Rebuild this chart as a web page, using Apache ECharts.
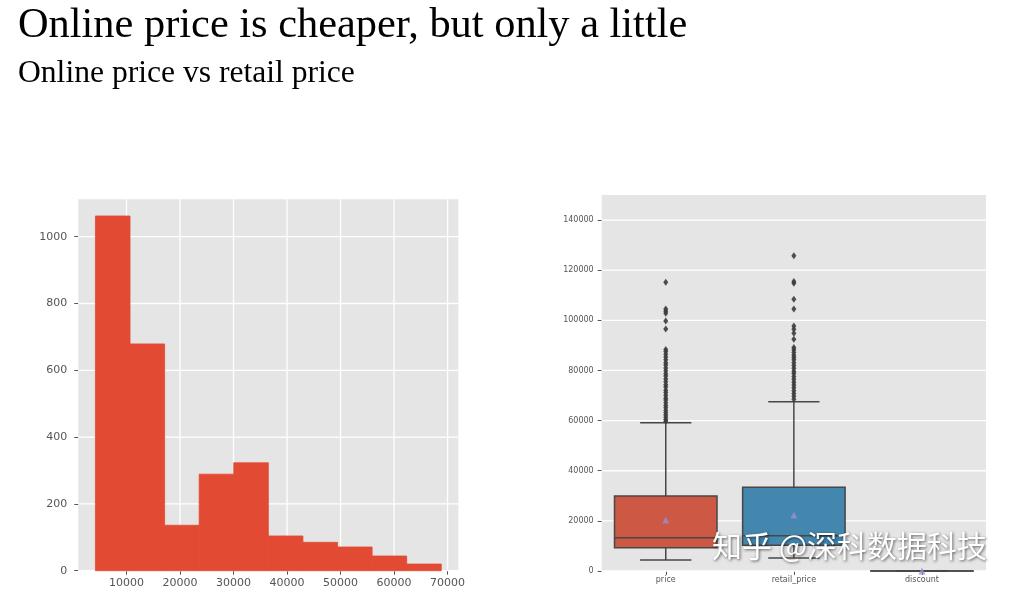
<!DOCTYPE html>
<html><head><meta charset="utf-8">
<script src="https://cdn.jsdelivr.net/npm/echarts@6/dist/echarts.min.js"></script>
<style>html,body{margin:0;padding:0;background:#fff}#c{width:1013px;height:593px}</style>
</head><body><div id="c"></div>
<script>
const titleText = 'Online price is cheaper, but only a little';
const subtitleText = 'Online price vs retail price';
const watermarkText = '知乎 @深科数据科技';

// histogram (bin edges and counts)
const histEdges = [4200, 10662, 17124, 23586, 30048, 36510, 42972, 49434, 55896, 62358, 68820];
const histCounts = [1062, 679, 136, 289, 323, 104, 85, 71, 44, 20];
const histXTicks = [10000, 20000, 30000, 40000, 50000, 60000, 70000];
const histYTicks = [0, 200, 400, 600, 800, 1000];

// box plot
const boxCategories = ['price', 'retail_price', 'discount'];
const boxMin = [4390, 5200, 0];
const boxQ1 = [9300, 10300, 0.4];
const boxMedian = [13290, 14100, 0.6];
const boxQ3 = [29900, 33380, 0.8];
const boxMax = [59160, 67540, 1];
const boxMean = [20340, 22340, 0.6];
const priceOutliers = [115200, 104500, 103600, 102800, 99700, 96500, 88400, 87600, 86500, 85400,
  84300, 83100, 82200, 81000, 79900, 78700, 77800, 76600, 75500, 74300, 73400, 72100, 71200,
  70100, 69000, 68200, 67100, 66000, 65100, 64000, 63100, 62200, 61300, 60400, 59700];
const retailOutliers = [125800, 115500, 114800, 108400, 104500, 97700, 96400, 94800, 92500,
  89200, 88300, 87200, 86100, 85200, 84300, 83100, 82000, 80900, 79700, 78800, 77600, 76500,
  75300, 74200, 73100, 71900, 70800, 69700, 68500];
const boxYTicks = [0, 20000, 40000, 60000, 80000, 100000, 120000, 140000];

const boxColors = ['#CD5843', '#4386AE', '#8E88BE'];
const lineGray = '#474747';
const tickColor = '#555555';
const plain = v => String(v);

function vLine(params, api) {
  const cs = params.coordSys;
  const x = api.coord([api.value(0), api.value(1)])[0];
  return { type: 'line', silent: true, shape: { x1: x, y1: cs.y, x2: x, y2: cs.y + cs.height },
    style: { stroke: '#ffffff', lineWidth: 1.3 } };
}
function hLine(params, api) {
  const cs = params.coordSys;
  const y = api.coord([api.value(0), api.value(1)])[1];
  return { type: 'line', silent: true, shape: { x1: cs.x, y1: y, x2: cs.x + cs.width, y2: y },
    style: { stroke: '#ffffff', lineWidth: 1.3 } };
}
function histBar(params, api) {
  const p0 = api.coord([api.value(0), 0]);
  const p1 = api.coord([api.value(1), api.value(2)]);
  return { type: 'rect', shape: { x: p0[0], y: p1[1], width: p1[0] - p0[0], height: p0[1] - p1[1] },
    style: { fill: '#E24A33', stroke: '#E24A33', lineWidth: 0.8 } };
}
function renderBox(params, api) {
  const i = api.value(0);
  const pMin = api.coord([i, api.value(1)]);
  const pQ1 = api.coord([i, api.value(2)]);
  const pMd = api.coord([i, api.value(3)]);
  const pQ3 = api.coord([i, api.value(4)]);
  const pMax = api.coord([i, api.value(5)]);
  const band = api.size([1, 0])[0];
  const hw = band * 0.4, cw = band * 0.2;
  const x = pMd[0];
  const ls = { stroke: lineGray, lineWidth: 1.5 };
  return { type: 'group', children: [
    { type: 'line', shape: { x1: x, y1: pQ1[1], x2: x, y2: pMin[1] }, style: ls },
    { type: 'line', shape: { x1: x, y1: pQ3[1], x2: x, y2: pMax[1] }, style: ls },
    { type: 'line', shape: { x1: x - cw, y1: pMin[1], x2: x + cw, y2: pMin[1] }, style: ls },
    { type: 'line', shape: { x1: x - cw, y1: pMax[1], x2: x + cw, y2: pMax[1] }, style: ls },
    { type: 'rect', shape: { x: x - hw, y: pQ3[1], width: 2 * hw, height: pQ1[1] - pQ3[1] },
      style: { fill: boxColors[params.dataIndex], stroke: lineGray, lineWidth: 1.5 } },
    { type: 'line', shape: { x1: x - hw, y1: pMd[1], x2: x + hw, y2: pMd[1] }, style: ls }
  ] };
}

const labelFont = 'DejaVu Sans';
const chart = echarts.init(document.getElementById('c'), null, { renderer: 'canvas' });
chart.setOption({
  animation: false,
  backgroundColor: '#ffffff',
  title: [
    { text: titleText, left: 18, top: 5, padding: 0,
      textStyle: { fontFamily: 'Liberation Serif', fontSize: 42.4, fontWeight: 'normal', color: '#000' } },
    { text: subtitleText, left: 18, top: 58, padding: 0,
      textStyle: { fontFamily: 'Liberation Serif', fontSize: 31.6, fontWeight: 'normal', color: '#000' } }
  ],
  grid: [
    { left: 78.3, top: 199.3, width: 380, height: 371.4, show: true, backgroundColor: '#E5E5E5', borderWidth: 0 },
    { left: 601.7, top: 195, width: 384.3, height: 376, show: true, backgroundColor: '#E5E5E5', borderWidth: 0 }
  ],
  xAxis: [
    { type: 'value', gridIndex: 0, min: 1000, max: 72000,
      axisLine: { show: false },
      axisTick: { show: true, customValues: histXTicks, length: 4, lineStyle: { color: tickColor } },
      axisLabel: { customValues: histXTicks, formatter: plain, color: tickColor, fontSize: 11, fontFamily: labelFont, margin: 7 },
      splitLine: { show: false } },
    { type: 'category', gridIndex: 1, data: boxCategories, boundaryGap: true,
      axisLine: { show: false },
      axisTick: { show: true, alignWithLabel: true, length: 4, lineStyle: { color: tickColor } },
      axisLabel: { color: tickColor, fontSize: 8, fontFamily: labelFont, margin: 5 },
      splitLine: { show: false } }
  ],
  yAxis: [
    { type: 'value', gridIndex: 0, min: 0, max: 1112,
      axisLine: { show: false },
      axisTick: { show: true, customValues: histYTicks, length: 4, lineStyle: { color: tickColor } },
      axisLabel: { customValues: histYTicks, formatter: plain, color: tickColor, fontSize: 11, fontFamily: labelFont, margin: 11 },
      splitLine: { show: false } },
    { type: 'value', gridIndex: 1, min: 0, max: 150000,
      axisLine: { show: false },
      axisTick: { show: true, customValues: boxYTicks, length: 4, lineStyle: { color: tickColor } },
      axisLabel: { customValues: boxYTicks, formatter: plain, color: tickColor, fontSize: 8, fontFamily: labelFont, margin: 8 },
      splitLine: { show: false } }
  ],
  series: [
    { type: 'custom', xAxisIndex: 0, yAxisIndex: 0, z: 1, silent: true, clip: false,
      data: histXTicks.map(v => [v, 0]), encode: { x: 0, y: 1 }, renderItem: vLine },
    { type: 'custom', xAxisIndex: 0, yAxisIndex: 0, z: 1, silent: true, clip: false,
      data: histYTicks.map(v => [histXTicks[0], v]), encode: { x: 0, y: 1 }, renderItem: hLine },
    { type: 'custom', xAxisIndex: 0, yAxisIndex: 0, z: 2, clip: false,
      data: histCounts.map((c, i) => [histEdges[i], histEdges[i + 1], c]),
      encode: { x: [0, 1], y: 2 }, renderItem: histBar },
    { type: 'custom', xAxisIndex: 1, yAxisIndex: 1, z: 1, silent: true, clip: false,
      data: boxYTicks.map(v => [0, v]), encode: { x: 0, y: 1 }, renderItem: hLine },
    { type: 'custom', xAxisIndex: 1, yAxisIndex: 1, z: 2, clip: false,
      data: boxCategories.map((c, i) => [i, boxMin[i], boxQ1[i], boxMedian[i], boxQ3[i], boxMax[i]]),
      encode: { x: 0, y: [1, 2, 3, 4, 5] }, renderItem: renderBox },
    { type: 'scatter', xAxisIndex: 1, yAxisIndex: 1, z: 3, symbol: 'diamond', symbolSize: [5, 7],
      itemStyle: { color: '#3c3c3c', opacity: 0.9 },
      data: priceOutliers.map(v => [0, v]).concat(retailOutliers.map(v => [1, v])) },
    { type: 'scatter', xAxisIndex: 1, yAxisIndex: 1, z: 4, symbol: 'triangle', symbolSize: 7,
      itemStyle: { color: '#988ED5' },
      data: boxMean.map((v, i) => [i, v]) }
  ],
  graphic: [
    { type: 'text', left: 712, top: 531, z: 100, silent: true,
      style: { text: watermarkText, font: '30px "Noto Sans CJK SC"', fill: '#ffffff',
        shadowColor: 'rgba(0,0,0,0.6)', shadowBlur: 3, shadowOffsetX: 1, shadowOffsetY: 1,
        textShadowColor: 'rgba(0,0,0,0.6)', textShadowBlur: 3, textShadowOffsetX: 1, textShadowOffsetY: 1 } }
  ]
});
</script></body></html>
